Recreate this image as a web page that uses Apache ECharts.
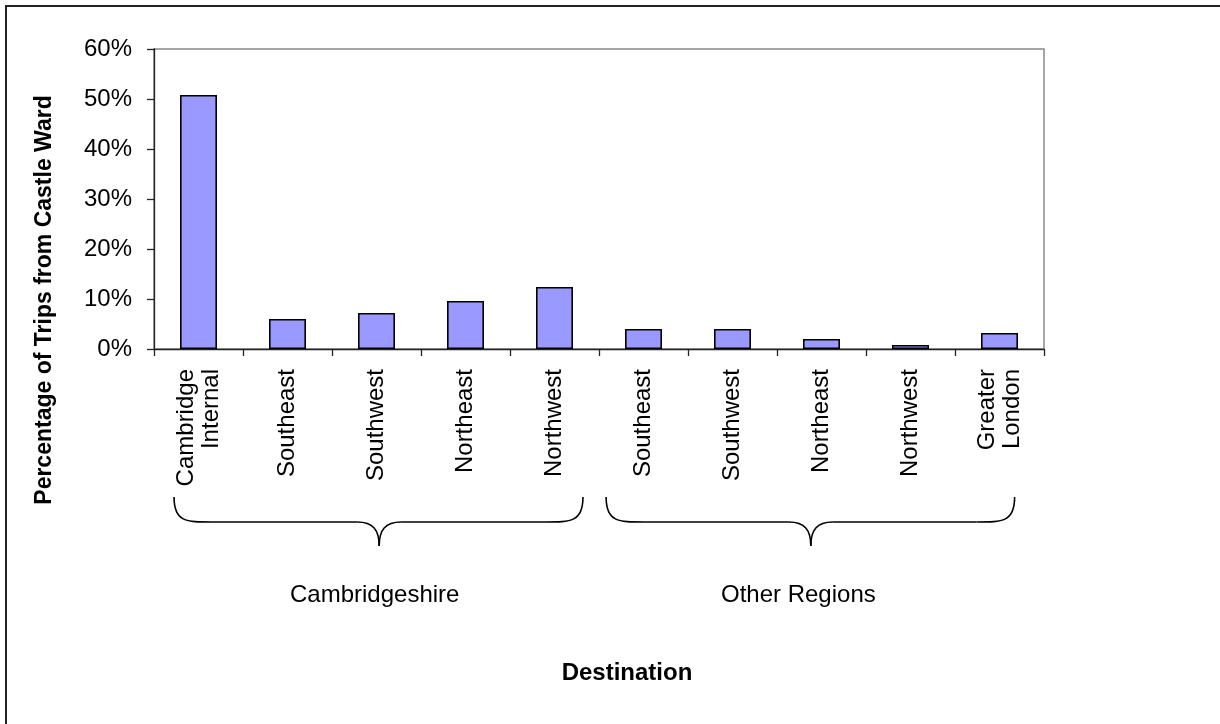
<!DOCTYPE html>
<html>
<head>
<meta charset="utf-8">
<script src="https://cdn.jsdelivr.net/npm/echarts@6/dist/echarts.min.js"></script>
<style>
html,body{margin:0;padding:0;background:#fff;}
#c{width:1220px;height:724px;}
</style>
</head>
<body>
<div id="c"></div>
<script>
// ---- data ----
const categories = ['Cambridge\nInternal','Southeast','Southwest','Northeast','Northwest',
                    'Southeast','Southwest','Northeast','Northwest','Greater\nLondon'];
const values = [50.8, 6.0, 7.2, 9.6, 12.4, 4.0, 4.0, 2.0, 0.8, 3.2];
const yTicks = [0, 10, 20, 30, 40, 50, 60];
const groupNames = ['Cambridgeshire', 'Other Regions'];
// brace spans in category-index units: [start, tip, end, labelPos]
const groupSpans = [[-0.275, 2.03, 4.32, 1.98], [4.58, 6.88, 9.17, 6.74]];
const yTitle = 'Percentage of Trips from Castle Ward';
const xTitle = 'Destination';

const FONT = 'Liberation Sans, Arial, sans-serif';
const chart = echarts.init(document.getElementById('c'), null, {renderer: 'canvas'});

const option = {
  animation: false,
  backgroundColor: '#fff',
  grid: {left: 154, right: 176, top: 49, bottom: 375, show: true,
         borderColor: '#888', borderWidth: 1.5, backgroundColor: 'transparent'},
  xAxis: {
    type: 'category', data: categories, boundaryGap: true,
    axisLine: {lineStyle: {color: '#222', width: 1.3}},
    axisTick: {show: true, inside: false, length: 7, alignWithLabel: false, lineStyle: {color: '#222', width: 1.3}},
    axisLabel: {rotate: 90, margin: 20, fontFamily: FONT, fontSize: 24, color: '#000', lineHeight: 25, interval: 0},
    splitLine: {show: false}
  },
  yAxis: {
    type: 'value', min: yTicks[0], max: yTicks[yTicks.length - 1], interval: 10,
    axisLine: {show: true, lineStyle: {color: '#222', width: 1.3}},
    axisTick: {show: true, inside: false, length: 7, lineStyle: {color: '#222', width: 1.3}},
    axisLabel: {formatter: '{value}%', margin: 22, fontFamily: FONT, fontSize: 24, color: '#000'},
    splitLine: {show: false}
  },
  series: [{
    type: 'bar', data: values, barWidth: 37,
    itemStyle: {color: '#9999FF', borderColor: '#000', borderWidth: 1.6}
  }]
};
chart.setOption(option);

const c0 = chart.convertToPixel({xAxisIndex: 0}, 0);
const step = chart.convertToPixel({xAxisIndex: 0}, 1) - c0;
function px(idx) { return c0 + idx * step; }
const y0 = chart.convertToPixel({yAxisIndex: 0}, 0);
const braceTop = y0 + 148, braceMid = y0 + 173, braceTip = y0 + 197;
const LS = {fill: null, stroke: '#000', lineWidth: 1.6};
const graphics = [];
function bez(x1, y1, cx1, cy1, cx2, cy2, x2, y2) {
  graphics.push({type: 'bezierCurve', shape: {x1: x1, y1: y1, cpx1: cx1, cpy1: cy1, cpx2: cx2, cpy2: cy2, x2: x2, y2: y2}, style: LS, silent: true});
}
function seg(x1, y1, x2, y2) {
  graphics.push({type: 'line', shape: {x1: x1, y1: y1, x2: x2, y2: y2}, style: LS, silent: true});
}
groupSpans.forEach((s, gi) => {
  const xl = px(s[0]), xt = px(s[1]), xr = px(s[2]), xlab = px(s[3]);
  bez(xl, braceTop, xl, braceMid, xl + 12, braceMid, xl + 38, braceMid);
  seg(xl + 38, braceMid, xt - 22, braceMid);
  bez(xt - 22, braceMid, xt - 6, braceMid, xt, braceMid + 8, xt, braceTip);
  bez(xt, braceTip, xt, braceMid + 8, xt + 6, braceMid, xt + 22, braceMid);
  seg(xt + 22, braceMid, xr - 38, braceMid);
  bez(xr - 38, braceMid, xr - 12, braceMid, xr, braceMid, xr, braceTop);
  graphics.push({type: 'text', x: xlab, y: y0 + 246, style: {text: groupNames[gi], font: '24px ' + FONT, fill: '#000', align: 'center', verticalAlign: 'middle'}, silent: true});
});
graphics.push({type: 'text', x: 627, y: 673, style: {text: xTitle, font: 'bold 24px ' + FONT, fill: '#000', align: 'center', verticalAlign: 'middle'}, silent: true});
graphics.push({type: 'text', x: 45, y: 300, rotation: Math.PI / 2, style: {text: yTitle, font: 'bold 23px ' + FONT, fill: '#000', align: 'center', verticalAlign: 'middle'}, silent: true});
graphics.push({type: 'rect', shape: {x: 6, y: 6, width: 1400, height: 900}, style: {fill: null, stroke: '#222', lineWidth: 2}, silent: true});
chart.setOption({graphic: graphics});
</script>
</body>
</html>
